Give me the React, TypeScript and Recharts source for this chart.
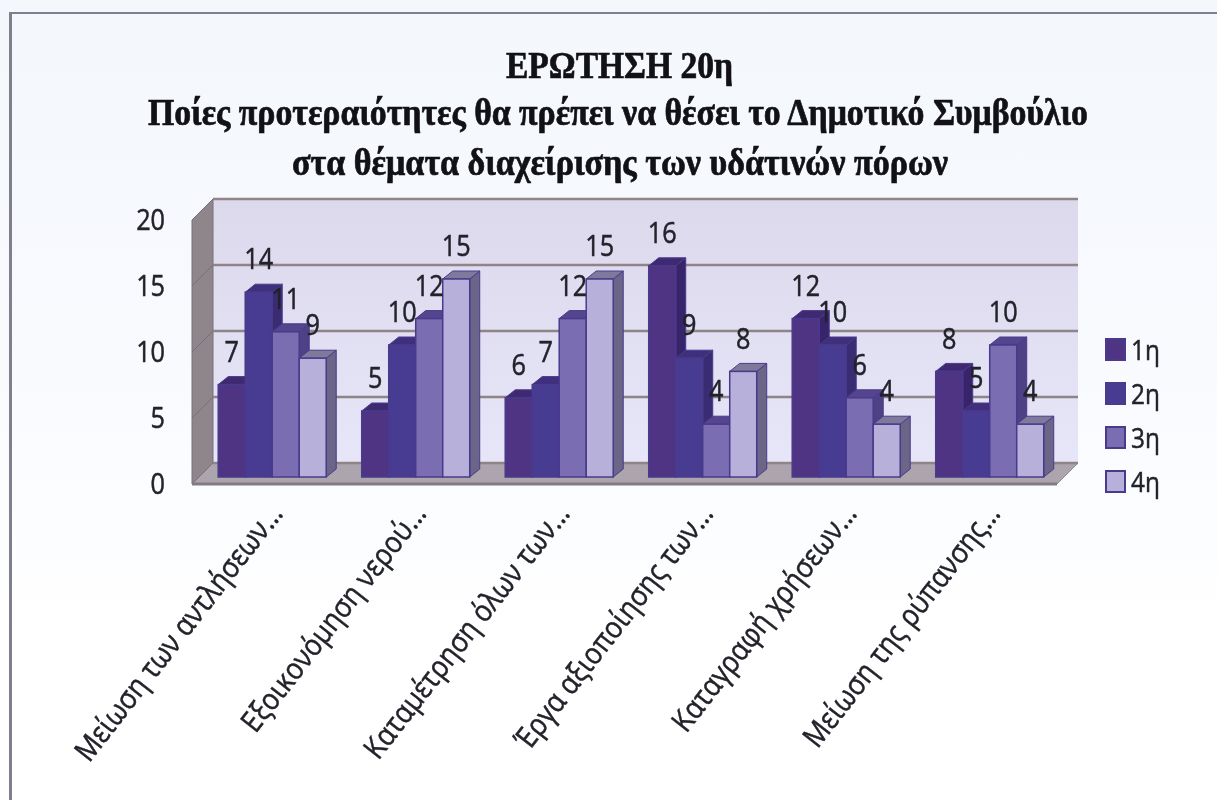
import { Bar, BarChart, LabelList, Legend, XAxis, YAxis, usePlotArea } from "recharts";

const CATEGORIES = [
  "Μείωση των αντλήσεων...",
  "Εξοικονόμηση νερού...",
  "Καταμέτρηση όλων των...",
  "Έργα αξιοποίησης των...",
  "Καταγραφή χρήσεων...",
  "Μείωση της ρύπανσης...",
];
const FIRST = [7, 5, 6, 16, 12, 8];
const SECOND = [14, 10, 7, 9, 10, 5];
const THIRD = [11, 12, 12, 4, 6, 10];
const FOURTH = [9, 15, 15, 8, 4, 4];
const Y_TICKS = [0, 5, 10, 15, 20];
const TITLE_LINES = [
  "ΕΡΩΤΗΣΗ 20η",
  "Ποίες προτεραιότητες θα πρέπει να θέσει το Δημοτικό Συμβούλιο",
  "στα θέματα διαχείρισης των υδάτινών πόρων",
];

const data = CATEGORIES.map((name, i) => ({
  name,
  s1: FIRST[i],
  s2: SECOND[i],
  s3: THIRD[i],
  s4: FOURTH[i],
}));

const SERIES = [
  { key: "s1", name: "1η", front: "#4f3484", top: "#3f2a72", side: "#38246a" },
  { key: "s2", name: "2η", front: "#483c92", top: "#3f2f7c", side: "#3a2c72" },
  { key: "s3", name: "3η", front: "#7a6db2", top: "#54458e", side: "#4f4186" },
  { key: "s4", name: "4η", front: "#b6b0da", top: "#7f7a9c", side: "#6b6588" },
];

const FONT = "'Open Sans', sans-serif";
const INK = "#22222a";
const EDGE = "#4a3a8c";
const DEPTH_X = 10;
const DEPTH_Y = 8;

function Squashed({ x, y, size, angle = 0, squash = 0.87, anchor = "middle", children }: any) {
  return (
    <text
      transform={`translate(${x} ${y}) rotate(${angle}) scale(${squash} 1)`}
      textAnchor={anchor}
      dominantBaseline="central"
      fontFamily={FONT}
      fontSize={size}
      fill={INK}
      stroke={INK}
      strokeWidth={0.5}
    >
      {children}
    </text>
  );
}

// 3D look: front face plus a top and a side face
function Bar3D(props: any) {
  const { x, y, width, height, front, top, side } = props;
  const b = y + height;
  const r = x + width;
  return (
    <g>
      <polygon
        points={`${r},${y} ${r + DEPTH_X},${y - DEPTH_Y} ${r + DEPTH_X},${b - DEPTH_Y} ${r},${b}`}
        fill={side}
        stroke={EDGE}
      />
      <polygon
        points={`${x},${y} ${x + DEPTH_X},${y - DEPTH_Y} ${r + DEPTH_X},${y - DEPTH_Y} ${r},${y}`}
        fill={top}
        stroke={EDGE}
      />
      <rect x={x} y={y} width={width} height={height} fill={front} stroke={EDGE} strokeWidth={1.5} />
    </g>
  );
}

function Walls() {
  const plot = usePlotArea();
  if (!plot) return null;
  const bottom = plot.y + plot.height;
  const left = plot.x;
  const right = plot.x + plot.width;
  const backL = left + 13;
  const backR = right + 17;
  const yAt = (v: number) => bottom - (v / 20) * plot.height;
  return (
    <g>
      <defs>
        <linearGradient id="wall" x1="0" y1="0" x2="0" y2="1">
          <stop offset="0" stopColor="#dcd9ed" />
          <stop offset="1" stopColor="#e7e5f8" />
        </linearGradient>
      </defs>
      <rect x={backL} y={yAt(20) - 14} width={backR - backL} height={plot.height} fill="url(#wall)" />
      <polygon
        points={`${left - 8},${yAt(20) + 7} ${backL},${yAt(20) - 14} ${backL},${bottom - 14} ${left - 8},${bottom + 7}`}
        fill="#8f868c"
        stroke="#77707a"
      />
      <polygon
        points={`${left - 8},${bottom + 7} ${backL},${bottom - 14} ${backR},${bottom - 14} ${backR - 21},${bottom + 7}`}
        fill="#aca5ad"
        stroke="#8f888f"
      />
      {Y_TICKS.map((t) => (
        <g key={t}>
          <line x1={backL} x2={backR} y1={yAt(t) - 14} y2={yAt(t) - 14} stroke="#8f8488" strokeWidth={2.5} />
          <line x1={left - 8} x2={backL} y1={yAt(t) + 7} y2={yAt(t) - 14} stroke="#77707a" />
        </g>
      ))}
      <line x1={left - 8} x2={backR - 21} y1={bottom + 7} y2={bottom + 7} stroke="#827b84" strokeWidth={3} />
    </g>
  );
}

function CategoryTick({ x, y, payload }: any) {
  return (
    <Squashed x={x + 3} y={y + 22} size={30} squash={0.88} angle={-52} anchor="end">
      {payload.value}
    </Squashed>
  );
}

function ValueTick({ y, payload }: any) {
  return (
    <Squashed x={165} y={y + 6} size={29} anchor="end">
      {payload.value}
    </Squashed>
  );
}

function ValueLabel({ x, y, width, value }: any) {
  return (
    <Squashed x={x + width / 2} y={y - 34} size={29}>
      {value}
    </Squashed>
  );
}

function LegendBox({ payload }: any) {
  return (
    <div style={{ fontFamily: FONT, fontSize: 28, color: INK, WebkitTextStroke: `0.5px ${INK}` }}>
      {(payload || []).map((item: any) => (
        <div key={item.value} style={{ display: "flex", alignItems: "center", height: 44 }}>
          <span
            style={{
              display: "inline-block",
              width: 17,
              height: 19,
              background: item.color,
              border: `2px solid ${EDGE}`,
              marginRight: 5,
              WebkitTextStroke: 0,
            }}
          />
          <span style={{ display: "inline-block", transform: "scaleX(0.87)", transformOrigin: "left" }}>
            {item.value}
          </span>
        </div>
      ))}
    </div>
  );
}

export default function App() {
  return (
    <div
      style={{
        position: "absolute",
        left: 0,
        top: 0,
        width: 1217,
        height: 800,
        overflow: "hidden",
        background: "linear-gradient(180deg, #f4f7fc 0%, #f8fafe 45%, #ffffff 80%)",
      }}
    >
      <div
        style={{
          position: "absolute",
          left: 9,
          top: 12,
          width: 1217,
          height: 800,
          borderTop: "2px solid #7f7f8e",
          borderLeft: "3px solid #7f7f8e",
        }}
      />
      <div style={{ position: "absolute", left: 0, top: 0, filter: "blur(0.6px)" }}>
        <BarChart
          width={1217}
          height={800}
          data={data}
          barCategoryGap="12.7%"
          barGap={0}
          margin={{ top: 213, right: 156, bottom: 0, left: 0 }}
        >
          <Walls />
          <XAxis
            dataKey="name"
            height={323}
            interval={0}
            axisLine={false}
            tickLine={false}
            tick={<CategoryTick />}
          />
          <YAxis
            width={200}
            domain={[0, 20]}
            ticks={Y_TICKS}
            axisLine={false}
            tickLine={false}
            tick={<ValueTick />}
          />
          <Legend
            layout="vertical"
            align="center"
            verticalAlign="middle"
            content={<LegendBox />}
            wrapperStyle={{ position: "absolute", left: 1105, top: 327, width: 90, height: 180 }}
          />
          {SERIES.map((s) => (
            <Bar
              key={s.key}
              dataKey={s.key}
              name={s.name}
              fill={s.front}
              isAnimationActive={false}
              shape={<Bar3D front={s.front} top={s.top} side={s.side} />}
            >
              <LabelList dataKey={s.key} content={<ValueLabel />} />
            </Bar>
          ))}
          {TITLE_LINES.map((line, i) => (
            <text
              key={line}
              x={[506, 148, 292][i]}
              y={[78, 125, 175][i]}
              textLength={[227, 940, 656][i]}
              lengthAdjust="spacingAndGlyphs"
              fontFamily="'Liberation Serif', serif"
              fontWeight="bold"
              fontSize={38}
              fill="#111116"
              stroke="#111116"
              strokeWidth={0.7}
            >
              {line}
            </text>
          ))}
        </BarChart>
      </div>
    </div>
  );
}
